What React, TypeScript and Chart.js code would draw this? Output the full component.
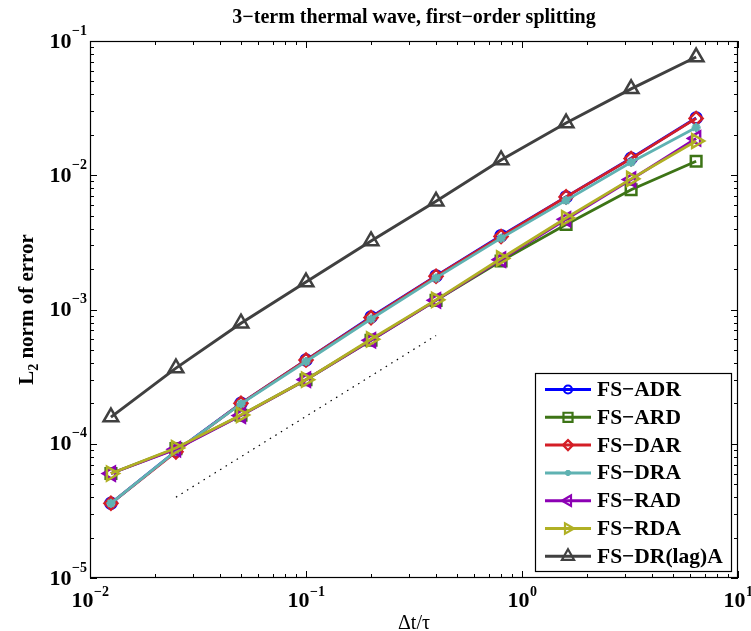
import React, { useEffect, useRef } from 'react';
import { Chart, registerables } from 'chart.js';

Chart.register(...registerables);

// ---------- data ----------
const dtTau = [0.0125, 0.025, 0.05, 0.1, 0.2, 0.4, 0.8, 1.6, 3.2, 6.4];

const fsADR = [3.6e-5, 8.8e-5, 2.0e-4, 4.2e-4, 8.8e-4, 1.78e-3, 3.55e-3, 6.9e-3, 1.34e-2, 2.67e-2];
const fsARD = [6.0e-5, 9.2e-5, 1.63e-4, 3.0e-4, 5.9e-4, 1.17e-3, 2.3e-3, 4.3e-3, 7.8e-3, 1.27e-2];
const fsDAR = [3.6e-5, 8.7e-5, 2.0e-4, 4.2e-4, 8.7e-4, 1.77e-3, 3.5e-3, 6.9e-3, 1.33e-2, 2.65e-2];
const fsDRA = [3.6e-5, 8.8e-5, 1.98e-4, 4.1e-4, 8.5e-4, 1.72e-3, 3.4e-3, 6.5e-3, 1.25e-2, 2.27e-2];
const fsRAD = [6.0e-5, 9.1e-5, 1.62e-4, 3.0e-4, 5.9e-4, 1.17e-3, 2.35e-3, 4.7e-3, 9.3e-3, 1.88e-2];
const fsRDA = [6.0e-5, 9.3e-5, 1.64e-4, 3.0e-4, 6.0e-4, 1.18e-3, 2.4e-3, 4.8e-3, 9.4e-3, 1.8e-2];
const fsDRlagA = [1.58e-4, 3.66e-4, 7.9e-4, 1.6e-3, 3.24e-3, 6.4e-3, 1.3e-2, 2.45e-2, 4.4e-2, 7.6e-2];

// first-order reference slope (dotted)
const refX = [0.025, 0.4];
const refY = [4.0e-5, 6.4e-4];

const seriesLabels = ['FS−ADR', 'FS−ARD', 'FS−DAR', 'FS−DRA', 'FS−RAD', 'FS−RDA', 'FS−DR(lag)A'];
const seriesValues = [fsADR, fsARD, fsDAR, fsDRA, fsRAD, fsRDA, fsDRlagA];

const xTickExponents = [-2, -1, 0, 1];
const yTickExponents = [-5, -4, -3, -2, -1];

const titleText = '3−term thermal wave, first−order splitting';
const xTitleText = 'Δt/τ';
const yTitleMain = 'L';
const yTitleSub = '2';
const yTitleRest = ' norm of error';

// ---------- styles ----------
const seriesStyles = [
  { color: '#0000ff', marker: 'circle', r: 5.5, lr: 4, rot: 0 },
  { color: '#3d7416', marker: 'rect', r: 7.5, lr: 6.4, rot: 0 },
  { color: '#d41e26', marker: 'rectRot', r: 6.5, lr: 5, rot: 0 },
  { color: '#5fb2b2', marker: 'star', r: 4.5, lr: 3, rot: 0 },
  { color: '#8c00b4', marker: 'triangle', r: 8, lr: 6, rot: -90 },
  { color: '#b0b024', marker: 'triangle', r: 8, lr: 6, rot: 90 },
  { color: '#404040', marker: 'triangle', r: 8.5, lr: 7, rot: 0 },
];

const SERIF = '"Liberation Serif", "Times New Roman", "DejaVu Serif", serif';

function drawMarker(ctx: CanvasRenderingContext2D, style: string, x: number, y: number, r: number, rotDeg: number) {
  ctx.beginPath();
  if (style === 'circle') {
    ctx.arc(x, y, r, 0, Math.PI * 2);
  } else if (style === 'rect') {
    const s = r / Math.SQRT2;
    ctx.rect(x - s, y - s, 2 * s, 2 * s);
  } else if (style === 'rectRot') {
    ctx.moveTo(x, y - r);
    ctx.lineTo(x + r, y);
    ctx.lineTo(x, y + r);
    ctx.lineTo(x - r, y);
    ctx.closePath();
  } else if (style === 'triangle') {
    let rad = (rotDeg * Math.PI) / 180;
    ctx.moveTo(x + Math.sin(rad) * r, y - Math.cos(rad) * r);
    rad += (2 * Math.PI) / 3;
    ctx.lineTo(x + Math.sin(rad) * r, y - Math.cos(rad) * r);
    rad += (2 * Math.PI) / 3;
    ctx.lineTo(x + Math.sin(rad) * r, y - Math.cos(rad) * r);
    ctx.closePath();
  } else if (style === 'star') {
    ctx.moveTo(x - r, y);
    ctx.lineTo(x + r, y);
    ctx.moveTo(x, y - r);
    ctx.lineTo(x, y + r);
    const d = r * Math.SQRT1_2;
    ctx.moveTo(x - d, y - d);
    ctx.lineTo(x + d, y + d);
    ctx.moveTo(x - d, y + d);
    ctx.lineTo(x + d, y - d);
  }
  ctx.stroke();
}

const framePlugin = {
  id: 'matlabFrame',
  afterDraw(chart: any) {
    const ctx: CanvasRenderingContext2D = chart.ctx;
    const { left, right, top, bottom } = chart.chartArea;
    const xs = chart.scales.x;
    const ys = chart.scales.y;
    ctx.save();

    // box
    ctx.strokeStyle = '#000';
    ctx.lineWidth = 1.2;
    ctx.strokeRect(left + 0.5, top + 0.5, right - left - 1, bottom - top - 1);

    // ticks (inward, all four sides)
    ctx.lineWidth = 1;
    ctx.beginPath();
    const majorLen = 7;
    const minorLen = 4;
    for (let e = xTickExponents[0]; e <= xTickExponents[xTickExponents.length - 1]; e++) {
      for (let k = 1; k <= 9; k++) {
        if (k > 1 && e === xTickExponents[xTickExponents.length - 1]) break;
        const v = k * Math.pow(10, e);
        const px = Math.round(xs.getPixelForValue(v)) + 0.5;
        const len = k === 1 ? majorLen : minorLen;
        ctx.moveTo(px, bottom);
        ctx.lineTo(px, bottom - len);
        ctx.moveTo(px, top);
        ctx.lineTo(px, top + len);
      }
    }
    for (let e = yTickExponents[0]; e <= yTickExponents[yTickExponents.length - 1]; e++) {
      for (let k = 1; k <= 9; k++) {
        if (k > 1 && e === yTickExponents[yTickExponents.length - 1]) break;
        const v = k * Math.pow(10, e);
        const py = Math.round(ys.getPixelForValue(v)) + 0.5;
        const len = k === 1 ? majorLen : minorLen;
        ctx.moveTo(left, py);
        ctx.lineTo(left + len, py);
        ctx.moveTo(right, py);
        ctx.lineTo(right - len, py);
      }
    }
    ctx.stroke();

    // tick labels
    ctx.fillStyle = '#000';
    const baseFont = `bold 22px ${SERIF}`;
    const expFont = `bold 14px ${SERIF}`;
    ctx.textBaseline = 'middle';
    xTickExponents.forEach((e) => {
      const px = xs.getPixelForValue(Math.pow(10, e));
      const expStr = e < 0 ? '−' + Math.abs(e) : String(e);
      ctx.font = baseFont;
      const wb = ctx.measureText('10').width;
      ctx.font = expFont;
      const we = ctx.measureText(expStr).width;
      const x0 = px - (wb + we) / 2;
      ctx.textAlign = 'left';
      ctx.font = baseFont;
      ctx.fillText('10', x0, bottom + 23);
      ctx.font = expFont;
      ctx.fillText(expStr, x0 + wb + 0.5, bottom + 14);
    });
    yTickExponents.forEach((e) => {
      const py = ys.getPixelForValue(Math.pow(10, e));
      const expStr = e < 0 ? '−' + Math.abs(e) : String(e);
      ctx.font = expFont;
      const we = ctx.measureText(expStr).width;
      const xr = left - 3;
      ctx.textAlign = 'left';
      ctx.fillText(expStr, xr - we, py - 10);
      ctx.font = baseFont;
      ctx.textAlign = 'right';
      ctx.fillText('10', xr - we - 0.5, py + 1);
    });

    // title
    const cx = (left + right) / 2;
    ctx.font = `bold 20px ${SERIF}`;
    ctx.textAlign = 'center';
    ctx.fillText(titleText, cx, 18);

    // x title
    ctx.font = `20px ${SERIF}`;
    ctx.fillText(xTitleText, cx, bottom + 46);

    // y title (rotated, with subscript)
    ctx.save();
    const cy = (top + bottom) / 2;
    ctx.translate(33, cy);
    ctx.rotate(-Math.PI / 2);
    ctx.textBaseline = 'alphabetic';
    ctx.textAlign = 'left';
    const fMain = `bold 21px ${SERIF}`;
    const fSub = `bold 14px ${SERIF}`;
    ctx.font = fMain;
    const w1 = ctx.measureText(yTitleMain).width;
    const w3 = ctx.measureText(yTitleRest).width;
    ctx.font = fSub;
    const w2 = ctx.measureText(yTitleSub).width;
    let tx = -(w1 + w2 + w3) / 2;
    ctx.font = fMain;
    ctx.fillText(yTitleMain, tx, 0);
    tx += w1;
    ctx.font = fSub;
    ctx.fillText(yTitleSub, tx, 5);
    tx += w2;
    ctx.font = fMain;
    ctx.fillText(yTitleRest, tx, 0);
    ctx.restore();

    // legend
    const lx0 = 535;
    const ly0 = 373;
    const lx1 = 732;
    const ly1 = 572;
    ctx.fillStyle = '#fff';
    ctx.fillRect(lx0, ly0, lx1 - lx0, ly1 - ly0);
    ctx.strokeStyle = '#000';
    ctx.lineWidth = 1.2;
    ctx.strokeRect(lx0 + 0.5, ly0 + 0.5, lx1 - lx0 - 1, ly1 - ly0 - 1);
    seriesLabels.forEach((label, i) => {
      const st = seriesStyles[i];
      const y = 389.5 + i * 27.8;
      ctx.strokeStyle = st.color;
      ctx.lineWidth = 3;
      ctx.beginPath();
      ctx.moveTo(545, y);
      ctx.lineTo(591, y);
      ctx.stroke();
      ctx.lineWidth = 2.2;
      drawMarker(ctx, st.marker, 568, y, st.lr, st.rot);
      ctx.fillStyle = '#000';
      ctx.font = `bold 21.5px ${SERIF}`;
      ctx.textAlign = 'left';
      ctx.textBaseline = 'middle';
      ctx.fillText(label, 597, y + 1);
    });

    ctx.restore();
  },
};

export default function App() {
  const canvasRef = useRef<HTMLCanvasElement | null>(null);

  useEffect(() => {
    const canvas = canvasRef.current;
    if (!canvas) return;

    const datasets: any[] = seriesLabels.map((label, i) => {
      const st = seriesStyles[i];
      return {
        label,
        data: dtTau.map((x, j) => ({ x, y: seriesValues[i][j] })),
        borderColor: st.color,
        backgroundColor: st.color,
        borderWidth: i === 6 ? 3 : 2.8,
        pointStyle: st.marker,
        pointRadius: st.r,
        pointRotation: st.rot,
        pointBorderWidth: 2.5,
        pointBorderColor: st.color,
        pointBackgroundColor: 'rgba(0,0,0,0)',
        tension: 0,
        fill: false,
        order: -i,
      };
    });
    datasets.push({
      label: 'slope 1',
      data: refX.map((x, j) => ({ x, y: refY[j] })),
      borderColor: '#000',
      borderWidth: 1.2,
      borderDash: [1.5, 5],
      pointRadius: 0,
      fill: false,
      order: 5,
    });

    const chart = new Chart(canvas, {
      type: 'line',
      data: { datasets },
      options: {
        responsive: false,
        animation: false,
        devicePixelRatio: 1,
        layout: { padding: { left: 90, right: 13, top: 41, bottom: 53 } },
        plugins: {
          legend: { display: false },
          title: { display: false },
          tooltip: { enabled: false },
        },
        scales: {
          x: { type: 'logarithmic', min: 0.01, max: 10, display: false },
          y: { type: 'logarithmic', min: 1e-5, max: 0.1, display: false },
        },
      },
      plugins: [framePlugin],
    });

    return () => {
      chart.destroy();
    };
  }, []);

  return (
    <div style={{ position: 'absolute', left: 0, top: 0, width: 751, height: 631, background: '#fff' }}>
      <canvas ref={canvasRef} width={751} height={631} style={{ display: 'block', width: 751, height: 631 }} />
    </div>
  );
}
